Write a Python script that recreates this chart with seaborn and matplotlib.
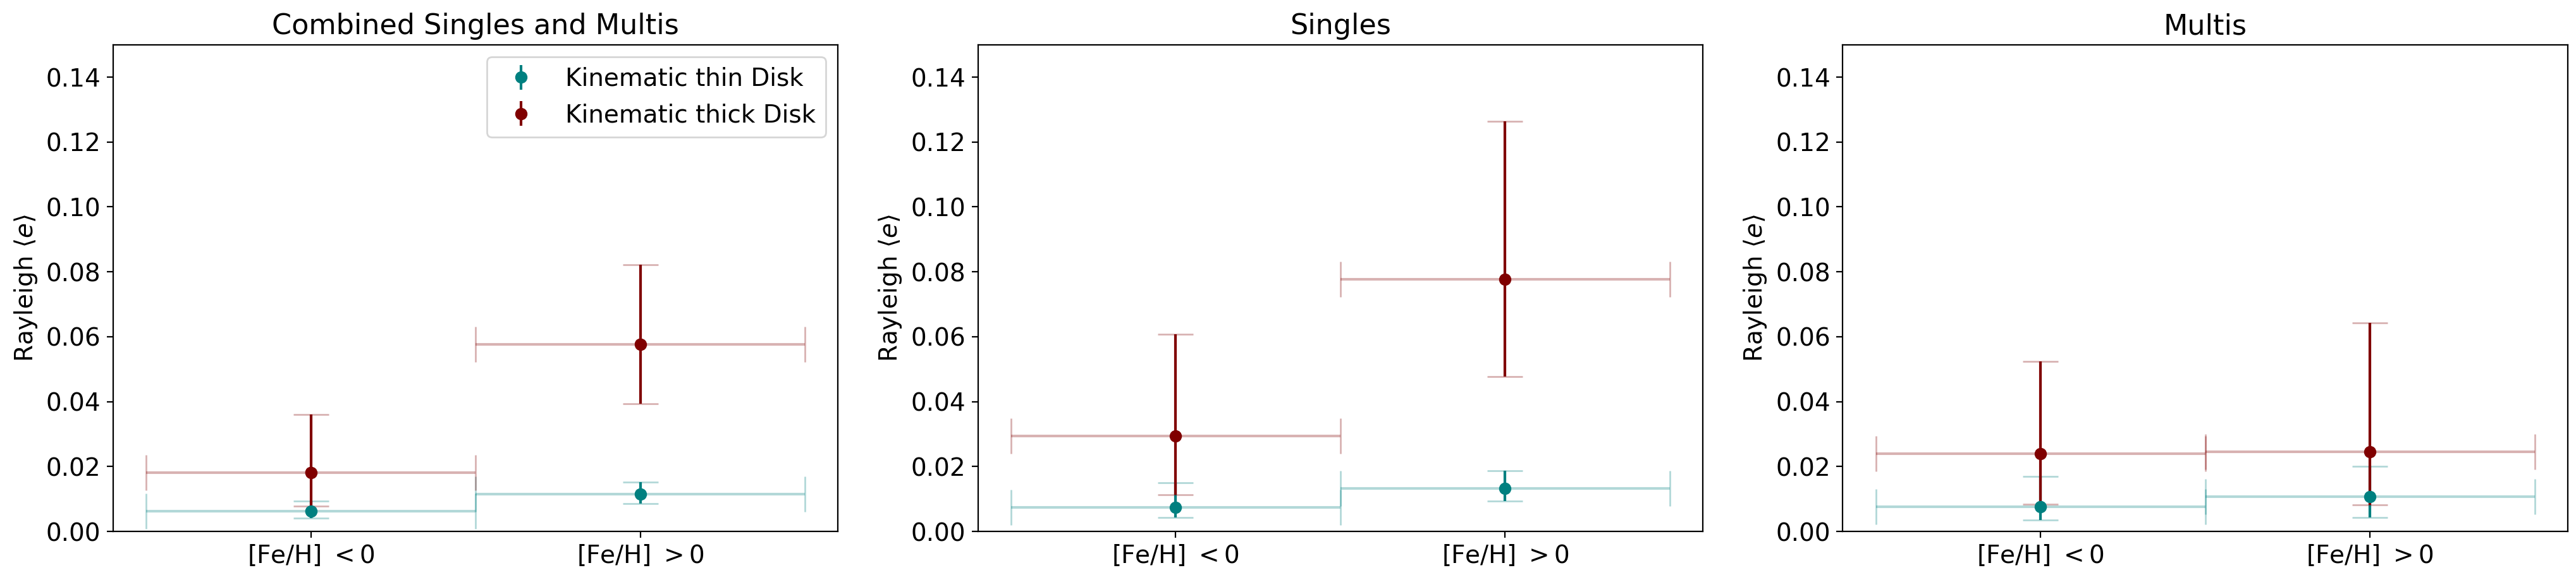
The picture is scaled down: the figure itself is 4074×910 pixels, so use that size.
import numpy as np
import pandas as pd
import matplotlib
matplotlib.use("Agg")
import matplotlib.pyplot as plt
import seaborn as sns

# ---- data ----
categories = ["[Fe/H] $<0$", "[Fe/H] $>0$"]
panel_titles = ["Combined Singles and Multis", "Singles", "Multis"]
populations = ["Kinematic thin Disk", "Kinematic thick Disk"]

# Combined
comb_thin = [0.00621, 0.01153]
comb_thin_lo = [0.00407, 0.00859]
comb_thin_hi = [0.00938, 0.01525]
comb_thick = [0.01819, 0.05774]
comb_thick_lo = [0.00780, 0.03932]
comb_thick_hi = [0.03605, 0.08226]

# Singles
sing_thin = [0.00734, 0.01333]
sing_thin_lo = [0.00430, 0.00940]
sing_thin_hi = [0.01500, 0.01876]
sing_thick = [0.02938, 0.07770]
sing_thick_lo = [0.01130, 0.04770]
sing_thick_hi = [0.06080, 0.12630]

# Multis
mult_thin = [0.00768, 0.01073]
mult_thin_lo = [0.00350, 0.00430]
mult_thin_hi = [0.01690, 0.02010]
mult_thick = [0.02395, 0.02452]
mult_thick_lo = [0.00840, 0.00820]
mult_thick_hi = [0.05240, 0.06430]

bin_halfwidth = 0.5

panels = [
    (comb_thin, comb_thin_lo, comb_thin_hi, comb_thick, comb_thick_lo, comb_thick_hi),
    (sing_thin, sing_thin_lo, sing_thin_hi, sing_thick, sing_thick_lo, sing_thick_hi),
    (mult_thin, mult_thin_lo, mult_thin_hi, mult_thick, mult_thick_lo, mult_thick_hi),
]

colors = {"Kinematic thin Disk": "#008080", "Kinematic thick Disk": "#800000"}

plt.rcParams.update({
    "font.family": ["DejaVu Sans"],
    "font.size": 14,
    "axes.titlesize": 16,
    "axes.labelsize": 14,
    "xtick.labelsize": 14,
    "ytick.labelsize": 14,
    "legend.fontsize": 14,
})

fig, axes = plt.subplots(1, 3, figsize=(4074 / 200, 910 / 200), dpi=200)
fig.subplots_adjust(left=0.0439, right=0.9968, bottom=0.0758, top=0.9223, wspace=0.193)

xpos = np.arange(len(categories))

for ax, title, pdata in zip(axes, panel_titles, panels):
    thin, thin_lo, thin_hi, thick, thick_lo, thick_hi = pdata
    rows = []
    for pop, vals, lo, hi in [(populations[0], thin, thin_lo, thin_hi),
                              (populations[1], thick, thick_lo, thick_hi)]:
        vals = np.asarray(vals)
        yerr = [vals - np.asarray(lo), np.asarray(hi) - vals]
        col = colors[pop]
        light = matplotlib.colors.to_rgba(col, 0.3)
        ax.errorbar(xpos, vals, xerr=bin_halfwidth, yerr=yerr, fmt="none",
                    ecolor=light, elinewidth=1.5, capsize=10, capthick=1.0)
        ax.errorbar(xpos, vals, yerr=yerr, fmt="o", color=col, ms=6,
                    elinewidth=1.5, label=pop)
        for xi, v in zip(xpos, vals):
            rows.append({"x": xi, "y": v, "pop": pop})
    df = pd.DataFrame(rows)
    sns.scatterplot(data=df, x="x", y="y", hue="pop", palette=colors, s=40,
                    edgecolor=None, linewidth=0, legend=False, ax=ax, zorder=5)
    ax.set_ylim(0, 0.15)
    ax.set_xticks(xpos)
    ax.set_xticklabels(categories)
    ax.set_xlabel("")
    ax.set_ylabel(r"Rayleigh $\langle e \rangle$")
    ax.set_title(title)

axes[0].legend(loc="upper right")

fig.savefig("out.png", dpi=200)
